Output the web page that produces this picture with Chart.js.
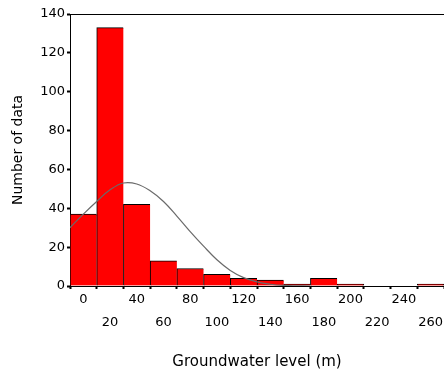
<!DOCTYPE html>
<html>
<head>
<meta charset="utf-8">
<script src="https://cdn.jsdelivr.net/npm/chart.js@4.4.1/dist/chart.umd.min.js"></script>
<style>
  html, body { margin: 0; padding: 0; background: #fff; }
  #wrap { width: 444px; height: 374px; }
</style>
</head>
<body>
<div id="wrap"><canvas id="histChart"></canvas></div>
<script>
// histogram bins (centre of each 20 m class) and counts
const binCenters = [0, 20, 40, 60, 80, 100, 120, 140, 160, 180, 200, 220, 240, 260];
const counts = [37, 133, 42, 13, 9, 6, 4, 3, 1, 4, 1, 0, 0, 1];

// fitted normal curve
const curveX = [-10, 0, 10, 20, 30, 40, 50, 60, 70, 80, 90, 100, 110, 120, 130, 140, 150, 160, 170];
const curveY = [30, 37, 43.5, 49.5, 53, 52.5, 49, 43.5, 36, 28, 20.5, 13.5, 8, 4.3, 2.1, 0.9, 0.3, 0.1, 0];

const yTicks = [0, 20, 40, 60, 80, 100, 120, 140];

const font = 'DejaVu Sans';

const barData = binCenters.map((x, i) => ({ x: x, y: counts[i] }));
const curveData = curveX.map((x, i) => ({ x: x, y: curveY[i] }));

const ctx = document.getElementById('histChart').getContext('2d');
new Chart(ctx, {
  data: {
    datasets: [
      {
        type: 'line',
        data: curveData,
        borderColor: '#6a6a6a',
        borderWidth: 1.2,
        pointRadius: 0,
        tension: 0.4,
        order: 0
      },
      {
        type: 'bar',
        data: barData,
        backgroundColor: '#ff0000',
        borderColor: '#000000',
        borderSkipped: false,
        borderWidth: c => {
          const next = counts[c.dataIndex + 1];
          return { top: 1, left: 1, bottom: 0, right: (next === undefined || next === 0) ? 1 : 0 };
        },
        barPercentage: 1,
        categoryPercentage: 1,
        order: 1
      }
    ]
  },
  options: {
    responsive: true,
    maintainAspectRatio: false,
    animation: false,
    layout: { padding: { top: 14, right: 0, left: 0, bottom: 0 } },
    plugins: {
      legend: { display: false },
      tooltip: { enabled: false }
    },
    scales: {
      x: {
        type: 'linear',
        position: 'bottom',
        offset: false,
        min: -10,
        max: 270,
        afterBuildTicks: s => { s.ticks = binCenters.map(v => ({ value: v })); },
        afterFit: s => { s.height = 88; },
        ticks: {
          autoSkip: false,
          maxRotation: 0,
          padding: 0,
          color: '#000',
          font: { family: font, size: 13, lineHeight: 1.7 },
          callback: (v, i) => (i % 2 === 0 ? [String(v)] : ['', String(v)])
        },
        grid: { drawOnChartArea: false, drawTicks: true, tickLength: 3, tickWidth: 2, tickColor: '#000' },
        border: { color: '#000', width: 1 },
        title: {
          display: true,
          text: 'Groundwater level (m)',
          color: '#000',
          font: { family: font, size: 15 },
          padding: { top: 0, bottom: 3 }
        }
      },
      xTop: {
        type: 'linear',
        position: 'top',
        offset: false,
        min: -10,
        max: 270,
        afterFit: s => { s.height = 0; },
        ticks: { display: false },
        grid: { display: false, drawTicks: false },
        border: { color: '#000', width: 1 }
      },
      y: {
        min: 0,
        max: 140,
        afterBuildTicks: s => { s.ticks = yTicks.map(v => ({ value: v })); },
        afterFit: s => { s.width = 70; },
        ticks: {
          padding: 2,
          color: '#000',
          font: { family: font, size: 13 }
        },
        grid: { drawOnChartArea: false, drawTicks: true, tickLength: 3, tickWidth: 2, tickColor: '#000' },
        border: { color: '#000', width: 1 },
        title: {
          display: true,
          text: 'Number of data',
          color: '#000',
          font: { family: font, size: 14 },
          padding: { top: 10, bottom: 0 }
        }
      }
    }
  }
});
</script>
</body>
</html>
